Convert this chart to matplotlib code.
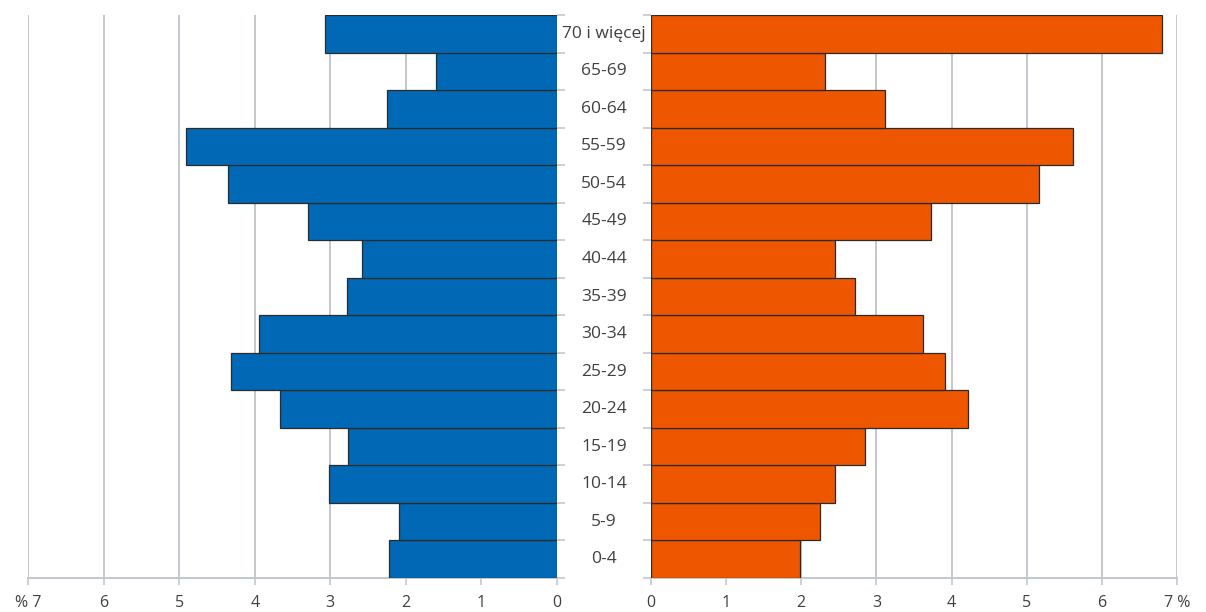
import matplotlib
matplotlib.use("Agg")
import matplotlib.pyplot as plt

plt.rcParams['font.family'] = ['Open Sans', 'DejaVu Sans']

# age groups, bottom to top
groups = ['0-4', '5-9', '10-14', '15-19', '20-24', '25-29', '30-34', '35-39',
          '40-44', '45-49', '50-54', '55-59', '60-64', '65-69', '70 i więcej']
left_vals = [2.22, 2.09, 3.02, 2.76, 3.66, 4.31, 3.94, 2.78,
             2.58, 3.29, 4.35, 4.91, 2.25, 1.60, 3.07]
right_vals = [1.98, 2.25, 2.45, 2.85, 4.22, 3.91, 3.62, 2.72,
              2.45, 3.73, 5.17, 5.62, 3.12, 2.32, 6.80]
ticks = [0, 1, 2, 3, 4, 5, 6, 7]
left_ticklabels = ['0', '1', '2', '3', '4', '5', '6', '% 7']
right_ticklabels = ['0', '1', '2', '3', '4', '5', '6', '7 %']

BLUE = '#0068B4'
ORANGE = '#EE5600'
GRID = '#C3C7CE'
TXT = '#404040'

fig = plt.figure(figsize=(12.06, 6.12), dpi=100)
axL = fig.add_axes([28 / 1206, 34 / 612, 529 / 1206, 563 / 612])
axR = fig.add_axes([651 / 1206, 34 / 612, 526 / 1206, 563 / 612])

ypos = list(range(len(groups)))
bounds = [y - 0.5 for y in ypos] + [len(groups) - 0.5]

axL.barh(ypos, left_vals, height=1.0, color=BLUE, edgecolor='#2b2b2b', linewidth=0.9, zorder=3)
axR.barh(ypos, right_vals, height=1.0, color=ORANGE, edgecolor='#2b2b2b', linewidth=0.9, zorder=3)

axL.set_xlim(7, 0)
axR.set_xlim(0, 7)

for ax, labels in ((axL, left_ticklabels), (axR, right_ticklabels)):
    ax.set_ylim(-0.5, len(groups) - 0.5)
    ax.set_xticks(ticks)
    ax.set_xticklabels(labels, fontsize=11.5, color=TXT)
    ax.grid(axis='x', color=GRID, linewidth=1.4, zorder=0)
    ax.set_axisbelow(True)
    ax.tick_params(axis='x', direction='out', length=5, color=GRID, width=1.2, pad=7)
    ax.set_yticks(bounds)
    ax.set_yticklabels([])
    ax.tick_params(axis='y', direction='out', length=6, color=GRID, width=1.2)
    for s in ('top', 'left', 'right'):
        ax.spines[s].set_visible(False)
    ax.spines['bottom'].set_color(GRID)
    ax.spines['bottom'].set_linewidth(1.4)

axL.yaxis.tick_right()
axR.yaxis.tick_left()

# category labels in the gap between the two panels
mid = (557 + 651) / 2 / 1206
for y, g in zip(ypos, groups):
    fy = (34 + (y + 0.5) / len(groups) * 563) / 612
    fig.text(mid, fy, g, ha='center', va='center', fontsize=12.5, color=TXT)

fig.savefig('out.png', dpi=100)
